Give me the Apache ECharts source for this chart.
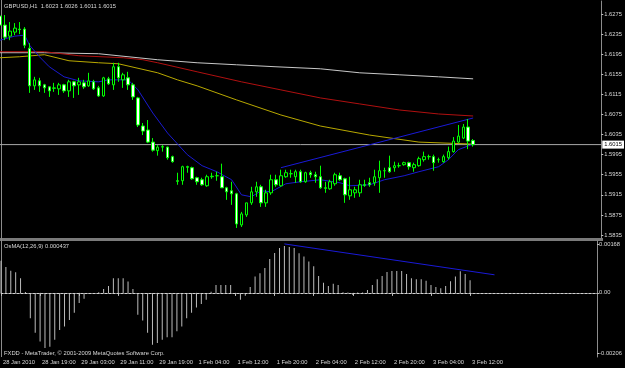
<!DOCTYPE html>
<html><head><meta charset="utf-8">
<script src="https://cdn.jsdelivr.net/npm/echarts@6/dist/echarts.min.js"></script>
<style>html,body{margin:0;padding:0;background:#000;}#c{width:625px;height:368px;}</style>
</head><body><div id="c"></div>
<script>
const symbol = 'GBPUSD,H1';
const timeLabels = ['28 Jan 2010','28 Jan 19:00','29 Jan 03:00','29 Jan 11:00','29 Jan 19:00','1 Feb 04:00','1 Feb 12:00','1 Feb 20:00','2 Feb 04:00','2 Feb 12:00','2 Feb 20:00','3 Feb 04:00','3 Feb 12:00'];
const opens  = [1.6271,1.6253,1.6231,1.6239,1.6245,1.6245,1.6207,1.6132,1.6142,1.6134,1.6130,1.6127,1.6126,1.6134,1.6122,1.6140,1.6134,1.6138,1.6132,1.6140,1.6128,1.6112,1.6146,1.6134,1.6170,1.6144,1.6148,1.6134,1.6108,1.6052,1.6044,1.6020,1.6003,1.6010,1.6010,1.5991,1.5943,1.5943,1.5971,1.5969,1.5949,1.5945,1.5933,1.5951,1.5953,1.5951,1.5929,1.5923,1.5917,1.5855,1.5875,1.5899,1.5921,1.5931,1.5899,1.5919,1.5945,1.5933,1.5951,1.5957,1.5951,1.5961,1.5941,1.5959,1.5955,1.5951,1.5929,1.5927,1.5937,1.5953,1.5947,1.5913,1.5919,1.5919,1.5935,1.5939,1.5939,1.5949,1.5963,1.5969,1.5969,1.5973,1.5975,1.5979,1.5969,1.5973,1.5985,1.5991,1.5991,1.5985,1.5981,1.5989,1.6001,1.6020,1.6028,1.6050,1.6023];
const closes = [1.6253,1.6229,1.6241,1.6247,1.6244,1.6213,1.6132,1.6144,1.6132,1.6128,1.6122,1.6128,1.6134,1.6122,1.6140,1.6132,1.6140,1.6130,1.6142,1.6126,1.6112,1.6148,1.6136,1.6170,1.6148,1.6154,1.6134,1.6110,1.6054,1.6042,1.6020,1.6004,1.6010,1.6011,1.5989,1.5981,1.5942,1.5971,1.5970,1.5947,1.5941,1.5935,1.5951,1.5952,1.5953,1.5929,1.5921,1.5917,1.5857,1.5877,1.5899,1.5921,1.5931,1.5899,1.5919,1.5945,1.5935,1.5953,1.5959,1.5957,1.5961,1.5941,1.5959,1.5955,1.5951,1.5929,1.5928,1.5941,1.5955,1.5945,1.5915,1.5925,1.5925,1.5935,1.5934,1.5935,1.5951,1.5963,1.5963,1.5961,1.5973,1.5973,1.5979,1.5971,1.5975,1.5987,1.5991,1.5991,1.5979,1.5985,1.5991,1.6001,1.6022,1.6032,1.6050,1.6022,1.6015];
const lows   = [1.6247,1.6223,1.6223,1.6233,1.6235,1.6207,1.6118,1.6124,1.6120,1.6118,1.6110,1.6120,1.6114,1.6118,1.6110,1.6108,1.6114,1.6126,1.6130,1.6124,1.6110,1.6110,1.6134,1.6124,1.6140,1.6128,1.6124,1.6104,1.6050,1.6034,1.6018,1.6001,1.5993,1.6001,1.5985,1.5979,1.5935,1.5935,1.5959,1.5945,1.5935,1.5933,1.5931,1.5947,1.5943,1.5929,1.5905,1.5895,1.5849,1.5851,1.5871,1.5895,1.5911,1.5891,1.5891,1.5915,1.5931,1.5931,1.5949,1.5949,1.5939,1.5939,1.5939,1.5949,1.5939,1.5927,1.5919,1.5925,1.5933,1.5943,1.5899,1.5905,1.5909,1.5911,1.5931,1.5931,1.5933,1.5919,1.5949,1.5959,1.5961,1.5969,1.5973,1.5965,1.5961,1.5971,1.5981,1.5985,1.5963,1.5979,1.5979,1.5985,1.5999,1.6018,1.6026,1.6006,1.6011];
const highs  = [1.6279,1.6273,1.6259,1.6257,1.6259,1.6249,1.6217,1.6150,1.6148,1.6136,1.6131,1.6138,1.6138,1.6136,1.6144,1.6142,1.6148,1.6144,1.6158,1.6144,1.6132,1.6150,1.6150,1.6178,1.6178,1.6158,1.6160,1.6138,1.6110,1.6058,1.6064,1.6028,1.6014,1.6014,1.6011,1.5993,1.5959,1.5973,1.5973,1.5971,1.5951,1.5949,1.5955,1.5959,1.5961,1.5977,1.5931,1.5941,1.5919,1.5881,1.5899,1.5931,1.5941,1.5935,1.5925,1.5955,1.5955,1.5965,1.5965,1.5965,1.5965,1.5965,1.5961,1.5963,1.5961,1.5973,1.5941,1.5945,1.5959,1.5959,1.5949,1.5951,1.5931,1.5945,1.5945,1.5949,1.5965,1.5983,1.5969,1.5993,1.5981,1.5979,1.5981,1.5981,1.5979,1.5991,1.6001,1.5995,1.5995,1.5989,1.5995,1.6011,1.6030,1.6054,1.6056,1.6066,1.6026];
const osma = [0.00110,0.00089,0.00076,0.00071,0.00050,0.00003,-0.00087,-0.00137,-0.00167,-0.00189,-0.00185,-0.00161,-0.00127,-0.00115,-0.00093,-0.00068,-0.00035,-0.00020,-0.00003,-0.00002,0.00002,0.00013,0.00024,0.00050,0.00050,0.00050,0.00039,0.00013,-0.00075,-0.00095,-0.00137,-0.00178,-0.00172,-0.00161,-0.00152,-0.00152,-0.00132,-0.00115,-0.00087,-0.00068,-0.00050,-0.00038,-0.00024,0.00004,0.00027,0.00027,0.00027,0.00027,-0.00010,-0.00024,-0.00010,0.00020,0.00056,0.00067,0.00085,0.00116,0.00137,0.00154,0.00161,0.00157,0.00154,0.00136,0.00125,0.00108,0.00091,0.00058,0.00035,0.00024,0.00031,0.00027,0.00002,0.00001,-0.00007,0.00001,0.00001,0.00010,0.00027,0.00047,0.00058,0.00072,0.00075,0.00075,0.00075,0.00065,0.00050,0.00047,0.00047,0.00042,0.00027,0.00020,0.00016,0.00024,0.00040,0.00056,0.00074,0.00065,0.000437];
const maGray   = [[0,1.6198],[9,1.6198],[20,1.6196],[32,1.6184],[40,1.6178],[48,1.6174],[56,1.6170],[65,1.6166],[73,1.6158],[81,1.6154],[89,1.6150],[96,1.6146]];
const maRed    = [[0,1.6200],[9,1.6200],[16,1.6192],[25,1.6188],[29,1.6184],[32,1.6178],[40,1.6160],[49,1.6140],[57,1.6124],[65,1.6108],[73,1.6096],[81,1.6084],[89,1.6076],[96,1.6072]];
const maYellow = [[0,1.6188],[4,1.6190],[9,1.6194],[14,1.6182],[20,1.6178],[24,1.6176],[32,1.6158],[36,1.6144],[40,1.6132],[48,1.6104],[57,1.6074],[65,1.6052],[75,1.6034],[85,1.6020],[96,1.6016]];
const maBlue   = [[0,1.6223],[3,1.6231],[5,1.6233],[6,1.6213],[8,1.6190],[10,1.6170],[13,1.6150],[16,1.6142],[20,1.6140],[22,1.6144],[26,1.6144],[28,1.6124],[31,1.6078],[34,1.6038],[38,1.5995],[41,1.5973],[44,1.5961],[47,1.5945],[49,1.5915],[51,1.5911],[53,1.5923],[55,1.5921],[58,1.5937],[61,1.5941],[65,1.5945],[69,1.5939],[71,1.5933],[75,1.5935],[78,1.5945],[82,1.5953],[85,1.5961],[89,1.5971],[91,1.5985],[93,1.6005],[96,1.6016]];
const priceTrend = [[57,1.5969],[96,1.6068]];
const osmaTrend  = [[58,0.00168],[101,0.00062]];
const priceTicks = [1.6275,1.6235,1.6195,1.6155,1.6115,1.6075,1.6035,1.5995,1.5955,1.5915,1.5875,1.5835];
const osmaTicks = [0.00168,0,-0.00206];
const osmaTickText = ['0.00168','0.00','-0.00206'];
const bidPrice = 1.6015;

const SLOTS = 123;
const slots = []; for (let i = 0; i < SLOTS; i++) slots.push(String(i));
const candles = opens.map((o, i) => [o, closes[i], lows[i], highs[i]]);
const last = opens.length - 1;
const F = '"Liberation Sans", Arial, sans-serif';
const FS = 5.8;
const txt = '#d8d8d8';
const axisGray = '#8c8c8c';
const showTick = (i) => i % 8 === 0 && i <= last;

const chart = echarts.init(document.getElementById('c'), null, {renderer: 'canvas'});
chart.setOption({
  backgroundColor: '#000',
  animation: false,
  grid: [
    {left: -0.2, right: 23, top: 1, height: 237},
    {left: -0.2, right: 23, top: 241, height: 116}
  ],
  xAxis: [
    {type: 'category', gridIndex: 0, data: slots, boundaryGap: false,
     axisLine: {show: false}, axisTick: {show: false}, axisLabel: {show: false}, splitLine: {show: false}},
    {type: 'category', gridIndex: 1, data: slots, boundaryGap: false,
     axisLine: {show: true, lineStyle: {color: axisGray, width: 1}},
     axisTick: {show: true, interval: (i) => showTick(i), length: 3, lineStyle: {color: '#c0c0c0'}},
     axisLabel: {show: true, interval: (i) => showTick(i), formatter: (v, i) => timeLabels[i / 8],
       align: 'left', color: txt, fontSize: FS, fontFamily: F, margin: 2, padding: [0, 0, 0, 2]},
     splitLine: {show: false}}
  ],
  yAxis: [
    {type: 'value', gridIndex: 0, position: 'right', min: 1.5829, max: 1.6301,
     axisLine: {show: true, lineStyle: {color: axisGray}},
     axisTick: {show: true, customValues: priceTicks, length: 2, lineStyle: {color: '#c0c0c0'}},
     axisLabel: {show: true, customValues: priceTicks, hideOverlap: false, formatter: (v) => v.toFixed(4), color: txt, fontSize: FS, fontFamily: F, margin: 3},
     splitLine: {show: false}},
    {type: 'value', gridIndex: 1, position: 'right', min: -0.0022, max: 0.00178,
     axisLine: {show: true, lineStyle: {color: axisGray}},
     axisTick: {show: true, customValues: osmaTicks, length: 2, lineStyle: {color: '#c0c0c0'}},
     axisLabel: {show: true, customValues: osmaTicks, formatter: (v) => osmaTickText[osmaTicks.indexOf(v)] || '', color: txt, fontSize: FS, fontFamily: F, margin: 2},
     splitLine: {show: false}}
  ],
  series: [
    {type: 'line', xAxisIndex: 0, yAxisIndex: 0, data: [[0, bidPrice], [SLOTS - 1, bidPrice]], showSymbol: false, symbol: 'none',
     lineStyle: {color: '#a8a8a8', width: 1}, z: 1, silent: true,
     endLabel: {show: true, formatter: bidPrice.toFixed(4), backgroundColor: '#fff', color: '#000',
       fontSize: FS, fontFamily: F, padding: [1, 2, 1, 2], distance: 1}},
    {type: 'line', xAxisIndex: 0, yAxisIndex: 0, data: maGray, showSymbol: false, symbol: 'none',
     lineStyle: {color: '#c8c8c8', width: 1}, z: 2},
    {type: 'line', xAxisIndex: 0, yAxisIndex: 0, data: maRed, showSymbol: false, symbol: 'none',
     lineStyle: {color: '#b01010', width: 1}, z: 2},
    {type: 'line', xAxisIndex: 0, yAxisIndex: 0, data: maYellow, showSymbol: false, symbol: 'none',
     lineStyle: {color: '#b8a800', width: 1}, z: 2},
    {type: 'line', xAxisIndex: 0, yAxisIndex: 0, data: maBlue, showSymbol: false, symbol: 'none',
     lineStyle: {color: '#1a1ad0', width: 1}, z: 2},
    {type: 'line', xAxisIndex: 0, yAxisIndex: 0, data: priceTrend, showSymbol: false, symbol: 'none',
     lineStyle: {color: '#1a1ad8', width: 1}, z: 2},
    {type: 'candlestick', xAxisIndex: 0, yAxisIndex: 0, data: candles, barWidth: 3, z: 3,
     itemStyle: {color: '#000', color0: '#fff', borderColor: '#00ff00', borderColor0: '#00ff00', borderColorDoji: '#00ff00', borderWidth: 1}},
    {type: 'bar', xAxisIndex: 1, yAxisIndex: 1, data: osma, barWidth: 1, z: 2,
     itemStyle: {color: '#bcbcbc'},
     markLine: {silent: true, symbol: 'none', animation: false, label: {show: false},
       lineStyle: {color: '#d0d0d0', type: [2, 2], width: 1},
       data: [{yAxis: 0}]}},
    {type: 'line', xAxisIndex: 1, yAxisIndex: 1, data: osmaTrend, showSymbol: false, symbol: 'none',
     lineStyle: {color: '#1a1ad8', width: 1}, z: 3}
  ],
  graphic: [
    {type: 'rect', left: 0, top: 238, shape: {width: 603, height: 3}, style: {fill: '#7a7a7a'}, silent: true},
    {type: 'line', shape: {x1: 1.5, y1: 0, x2: 1.5, y2: 357}, style: {stroke: axisGray, lineWidth: 1}, silent: true},
    {type: 'text', left: 4, top: 3, style: {text: symbol + '  ' + [opens[last], highs[last], lows[last], closes[last]].map(v => v.toFixed(4)).join(' '), fill: txt, font: FS + 'px ' + F}, silent: true},
    {type: 'text', left: 4, top: 243, style: {text: 'OsMA(12,26,9) ' + osma[last].toFixed(6), fill: txt, font: FS + 'px ' + F}, silent: true},
    {type: 'text', left: 4, top: 350, style: {text: 'FXDD - MetaTrader, \u00a9 2001-2009 MetaQuotes Software Corp.', fill: txt, font: FS + 'px ' + F}, silent: true}
  ]
});
</script></body></html>
